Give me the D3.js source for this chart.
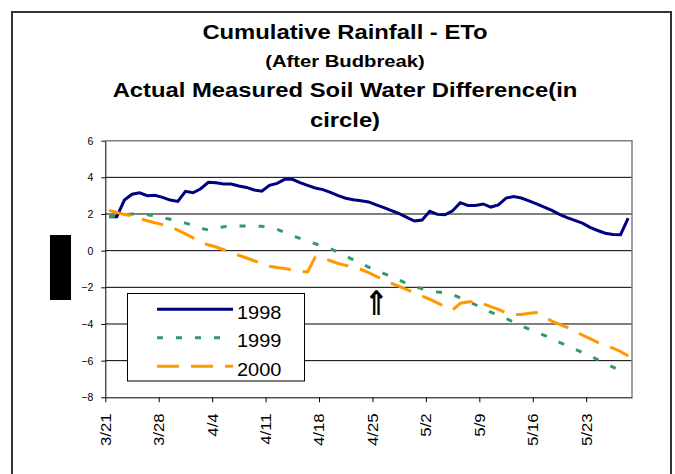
<!DOCTYPE html>
<html>
<head>
<meta charset="utf-8">
<script src="https://cdn.jsdelivr.net/npm/d3@7"></script>
<style>
  body { margin: 0; background: #fff; }
  svg { display: block; font-family: "Liberation Sans", Arial, sans-serif; }
</style>
</head>
<body>
<svg id="chart" width="675" height="474"></svg>
<script>

const titleLines = ['Cumulative Rainfall - ETo', '(After Budbreak)', 'Actual Measured Soil Water Difference(in', 'circle)'];
const tickLabels = ['3/21', '3/28', '4/4', '4/11', '4/18', '4/25', '5/2', '5/9', '5/16', '5/23'];
const yTicks = [-8, -6, -4, -2, 0, 2, 4, 6];
const firstDay = '3/21';
const seriesNames = ['1998', '1999', '2000'];

// one value per day from 3/21
const rain1998 = [1.85, 1.85, 2.76, 3.08, 3.16, 3.0, 3.02, 2.91, 2.76, 2.69,
  3.24, 3.16, 3.38, 3.73, 3.71, 3.64, 3.64, 3.53, 3.45, 3.31,
  3.24, 3.56, 3.67, 3.89, 3.89, 3.71, 3.56, 3.42, 3.33, 3.18,
  3.0, 2.86, 2.78, 2.72, 2.66, 2.5, 2.35, 2.18, 2.02, 1.82,
  1.62, 1.67, 2.15, 1.98, 1.96, 2.18, 2.62, 2.47, 2.47, 2.55,
  2.38, 2.5, 2.87, 2.95, 2.87, 2.72, 2.55, 2.38, 2.2, 1.98,
  1.8, 1.65, 1.5, 1.27, 1.1, 0.95, 0.88, 0.87, 1.78];
const rain1999 = [1.85, 1.9, 1.96, 2.0, 1.98, 1.96, 1.9, 1.8, 1.71, 1.62,
  1.5, 1.38, 1.22, 1.13, 1.2, 1.31, 1.34, 1.35, 1.35, 1.35,
  1.33, 1.25, 1.16, 1.0, 0.82, 0.67, 0.52, 0.38, 0.25, 0.1,
  -0.09, -0.3, -0.5, -0.7, -0.9, -1.1, -1.25, -1.4, -1.6, -1.8,
  -1.95, -2.08, -2.18, -2.25, -2.3, -2.4, -2.58, -2.75, -2.95, -3.15,
  -3.35, -3.52, -3.7, -3.9, -4.1, -4.28, -4.45, -4.62, -4.8, -5.0,
  -5.18, -5.37, -5.55, -5.72, -5.95, -6.15, -6.35, -6.55];
const rain2000 = [2.2, 2.08, 1.97, 1.9, 1.75, 1.63, 1.52, 1.42, 1.3, 1.12,
  0.92, 0.7, 0.47, 0.32, 0.2, 0.05, -0.1, -0.25, -0.4, -0.55,
  -0.7, -0.85, -0.92, -0.97, -1.05, -1.12, -1.16, -0.35, -0.4, -0.55,
  -0.7, -0.8, -0.92, -1.03, -1.2, -1.4, -1.6, -1.78, -1.95, -2.12,
  -2.3, -2.48, -2.65, -2.85, -3.05, -3.24, -2.87, -2.8, -2.75, -2.9,
  -3.05, -3.2, -3.4, -3.49, -3.48, -3.42, -3.38, -3.6, -3.85, -4.02,
  -4.18, -4.4, -4.6, -4.8, -5.0, -5.15, -5.32, -5.5, -5.75];

const series = [
  { name: seriesNames[0], values: rain1998, color: '#000080', dash: null },
  { name: seriesNames[1], values: rain1999, color: '#339966', dash: '6,13' },
  { name: seriesNames[2], values: rain2000, color: '#FF9900', dash: '22,12' },
];

const plot = { left: 105.3, right: 632, top: 140.7, bottom: 397.3 };

const parseDay = d3.timeParse('%m/%d');
const start = parseDay(firstDay);
const dayOf = i => d3.timeDay.offset(start, i);
const midDay = i => d3.timeHour.offset(dayOf(i), 12);

let svg = d3.select('#chart');

let x = d3.scaleTime()
    .domain([start, dayOf(rain1998.length)])
    .range([plot.left, plot.right]);

let y = d3.scaleLinear()
    .domain([d3.min(yTicks), d3.max(yTicks)])
    .range([plot.bottom, plot.top]);

// stretch text sideways a little, the source font runs wide
function widen(sel, k) {
  sel.each(function() {
    const w = this.getComputedTextLength();
    d3.select(this).attr('textLength', w * k).attr('lengthAdjust', 'spacingAndGlyphs');
  });
}

// outer frame
svg.append('rect')
    .attr('x', 12).attr('y', 12)
    .attr('width', 659).attr('height', 480)
    .attr('fill', 'none')
    .attr('stroke', '#333')
    .attr('stroke-width', 2);

// titles
const titleY = [39.3, 66.7, 97.3, 126.7];
const titleSize = [20, 17, 20, 20];
let titles = svg.append('g')
  .selectAll('text')
  .data(titleLines)
  .join('text')
    .attr('x', 345)
    .attr('y', (d, i) => titleY[i])
    .attr('text-anchor', 'middle')
    .attr('font-weight', 'bold')
    .attr('font-size', (d, i) => titleSize[i])
    .attr('fill', '#000')
    .text(d => d);
widen(titles, 1.19);

// hidden axis title block
svg.append('rect')
    .attr('x', 50).attr('y', 235)
    .attr('width', 21).attr('height', 65)
    .attr('fill', '#000');

// gridlines
svg.append('g')
  .selectAll('line')
  .data(yTicks.filter(v => v > d3.min(yTicks) && v < d3.max(yTicks)))
  .join('line')
    .attr('x1', plot.left).attr('x2', plot.right)
    .attr('y1', d => y(d)).attr('y2', d => y(d))
    .attr('stroke', '#000')
    .attr('stroke-width', 1);

// plot border (grey top/right)
svg.append('path')
    .attr('d', `M${plot.left},${plot.top}H${plot.right}V${plot.bottom}`)
    .attr('fill', 'none')
    .attr('stroke', '#808080')
    .attr('stroke-width', 1.5);

// y axis
let yAxis = svg.append('g')
    .attr('transform', `translate(${plot.left},0)`)
    .call(d3.axisLeft(y).tickValues(yTicks).tickSize(4).tickPadding(8).tickSizeOuter(0));
yAxis.select('.domain').attr('stroke', '#000');
yAxis.selectAll('line').attr('stroke', '#000');
yAxis.selectAll('text')
    .attr('font-size', 10.5)
    .attr('font-family', '"Liberation Sans", Arial, sans-serif')
    .attr('fill', '#000');

// x axis
let xAxis = svg.append('g')
    .attr('transform', `translate(0,${plot.bottom})`)
    .call(d3.axisBottom(x)
      .tickValues(tickLabels.map(parseDay))
      .tickFormat(d3.timeFormat('%-m/%-d'))
      .tickSize(5)
      .tickSizeOuter(0));
xAxis.select('.domain').attr('stroke', '#000');
xAxis.selectAll('line').attr('stroke', '#000');
let xLabels = xAxis.selectAll('text')
    .attr('font-size', 14)
    .attr('font-family', '"Liberation Sans", Arial, sans-serif')
    .attr('fill', '#000')
    .attr('transform', 'rotate(-90)')
    .attr('text-anchor', 'end')
    .attr('x', -16)
    .attr('y', 0)
    .attr('dy', '0.35em');
widen(xLabels, 1.2);

// series
let line = d3.line()
    .x((d, i) => x(midDay(i)))
    .y(d => y(d));

svg.append('g')
  .selectAll('path')
  .data(series)
  .join('path')
    .attr('d', d => line(d.values))
    .attr('fill', 'none')
    .attr('stroke', d => d.color)
    .attr('stroke-width', 3)
    .attr('stroke-dasharray', d => d.dash);

// arrow marking 4/25
svg.append('text')
    .attr('transform', `translate(${x(parseDay('4/25')) + 4},315) scale(0.85,1)`)
    .attr('text-anchor', 'middle')
    .attr('font-family', '"DejaVu Sans", sans-serif')
    .attr('font-weight', 'bold')
    .attr('font-size', 34)
    .attr('fill', '#000')
    .text('\u21D1');

// legend
let legend = svg.append('g');
legend.append('rect')
    .attr('x', 127.5).attr('y', 293.5)
    .attr('width', 177).attr('height', 87.5)
    .attr('fill', '#fff')
    .attr('stroke', '#000')
    .attr('stroke-width', 1);

const legendY = [309.3, 337.7, 366.3];
let items = legend.selectAll('g.item')
  .data(series)
  .join('g')
    .attr('class', 'item')
    .attr('transform', (d, i) => `translate(0,${legendY[i]})`);

items.append('line')
    .attr('x1', 157).attr('x2', 233)
    .attr('stroke', d => d.color)
    .attr('stroke-width', 3)
    .attr('stroke-dasharray', d => d.dash);

let legendText = items.append('text')
    .attr('x', 237)
    .attr('y', 4)
    .attr('dy', '0.3em')
    .attr('font-size', 19)
    .attr('fill', '#000')
    .text(d => d.name);
widen(legendText, 1.05);

</script>
</body>
</html>
